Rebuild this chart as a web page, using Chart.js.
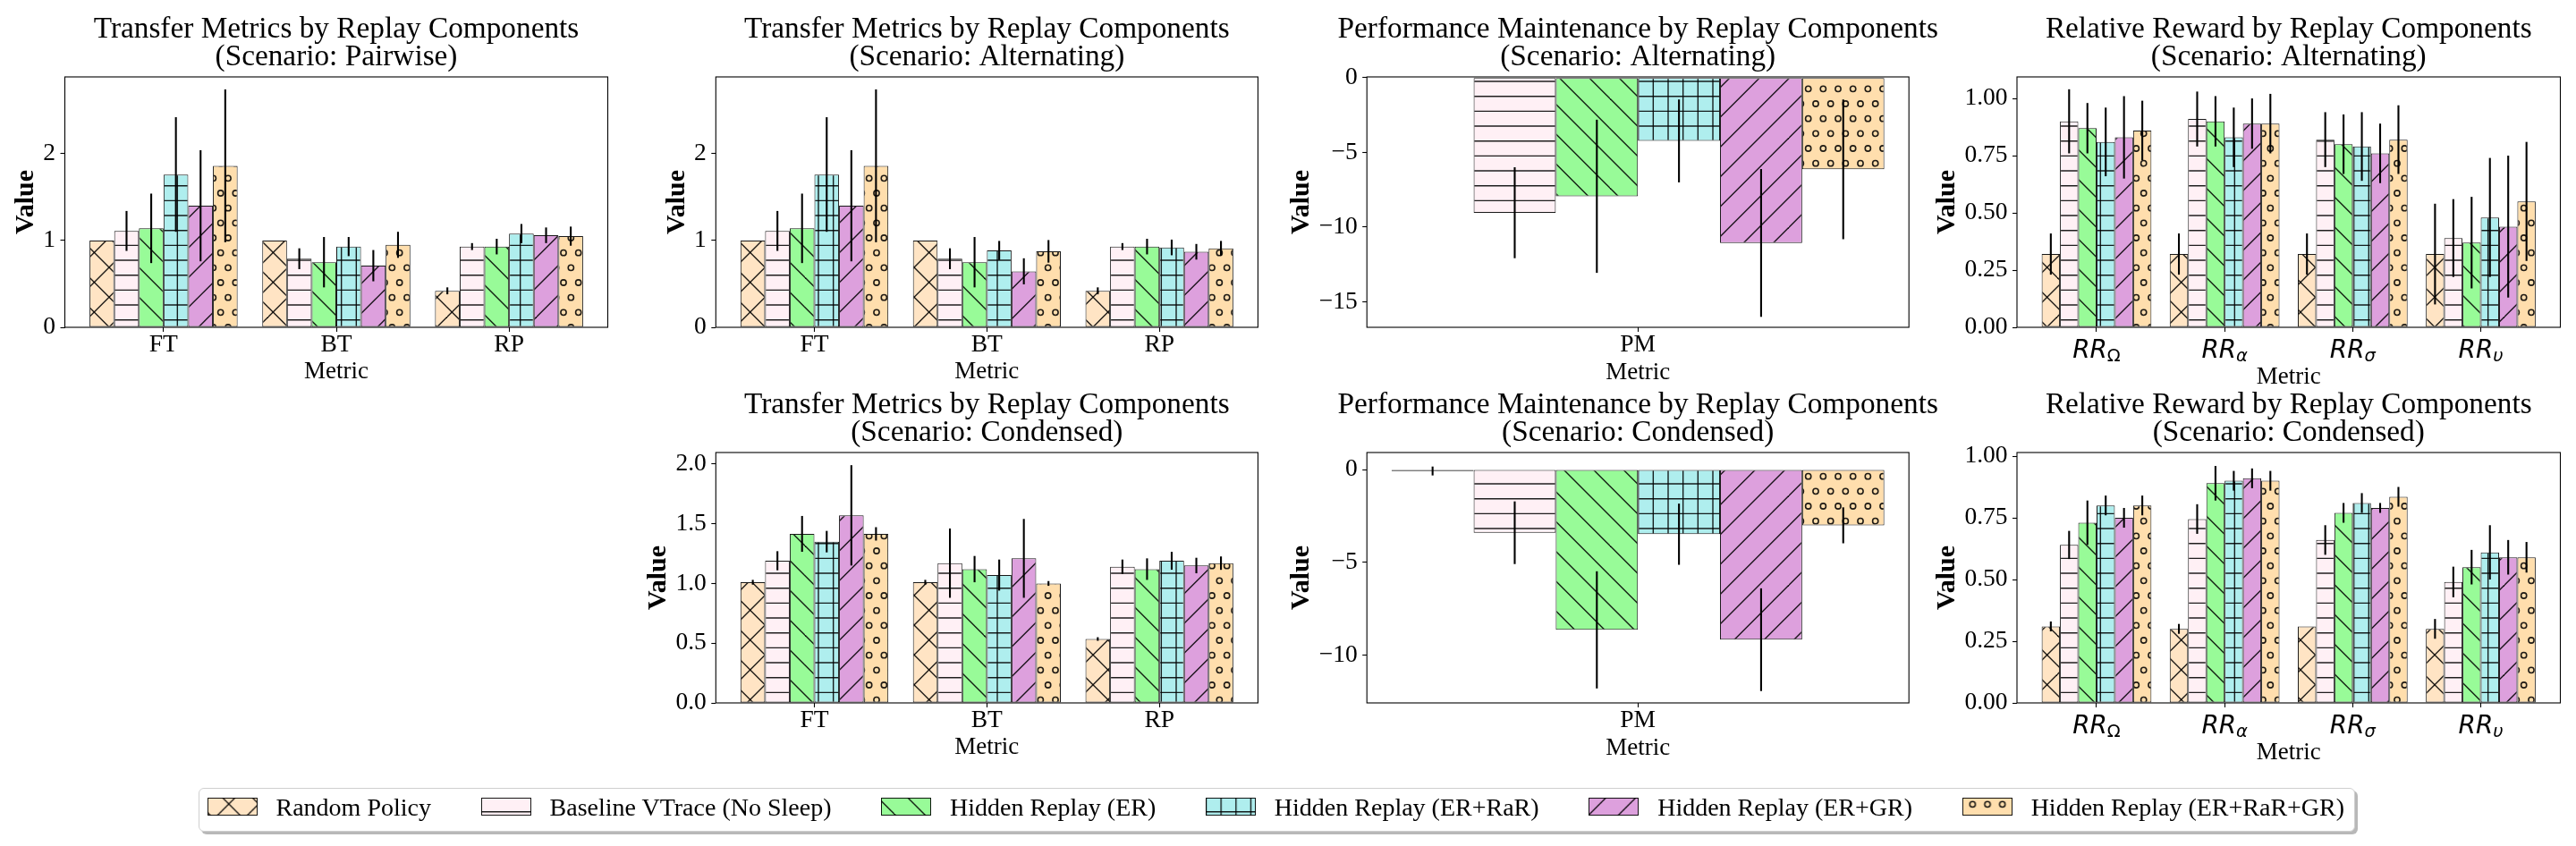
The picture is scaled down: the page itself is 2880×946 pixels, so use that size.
<!DOCTYPE html>
<html>
<head>
<meta charset="utf-8">
<script src="https://cdn.jsdelivr.net/npm/chart.js@4.4.1/dist/chart.umd.min.js"></script>
<style>
html,body{margin:0;padding:0;background:#fff;}
#fig{position:relative;width:2880px;height:946px;overflow:hidden;background:#fff;}
#fig canvas.panel{position:absolute;left:0;top:0;}
#legend{position:absolute;left:222px;top:881px;height:47px;display:flex;align-items:flex-start;
  padding:0 11px 0 8.5px;border:1px solid #cfcfcf;border-radius:6px;background:#fff;
  box-shadow:3px 3px 0 0 rgba(0,0,0,0.28);font-family:"Liberation Serif","Times New Roman",serif;
  font-size:28px;color:#000;white-space:nowrap;}
#legend .item{display:flex;align-items:flex-start;margin-right:55.6px;}
#legend .item:last-child{margin-right:0;}
#legend canvas.sw{margin-top:10px;margin-right:21px;width:56px;height:20px;display:block;}
#legend span{line-height:28px;margin-top:6.5px;display:block;}
</style>
</head>
<body>
<div id="fig">
  <canvas class="panel" id="c1" width="2880" height="946"></canvas>
  <canvas class="panel" id="c2" width="2880" height="946"></canvas>
  <canvas class="panel" id="c3" width="2880" height="946"></canvas>
  <canvas class="panel" id="c4" width="2880" height="946"></canvas>
  <canvas class="panel" id="c5" width="2880" height="946"></canvas>
  <canvas class="panel" id="c6" width="2880" height="946"></canvas>
  <canvas class="panel" id="c7" width="2880" height="946"></canvas>
  <div id="legend"></div>
</div>
<script>
// ---------------- DATA ----------------
const METHODS = ['Random Policy', 'Baseline VTrace (No Sleep)', 'Hidden Replay (ER)',
                 'Hidden Replay (ER+RaR)', 'Hidden Replay (ER+GR)', 'Hidden Replay (ER+RaR+GR)'];

const TRANSFER_METRICS = ['FT', 'BT', 'RP'];
const PM_METRICS = ['PM'];
const RR_BASE = 'RR';
const RR_SUBSCRIPTS = ['Ω', 'α', 'σ', 'υ'];

const TRANSFER_TICKS = [0, 1, 2];
const TRANSFER_COND_TICKS = [0, 0.5, 1, 1.5, 2];
const PM_ALT_TICKS = [0, -5, -10, -15];
const PM_COND_TICKS = [0, -5, -10];
const RR_TICKS = [0, 0.25, 0.5, 0.75, 1];

// rows = methods, columns = metrics
const pairwiseTransferMean = [
  [1.00, 1.00, 0.42], [1.11, 0.79, 0.93], [1.14, 0.75, 0.93],
  [1.76, 0.93, 1.08], [1.40, 0.71, 1.06], [1.86, 0.95, 1.05]];
const pairwiseTransferErr = [
  [0, 0, 0.04], [0.23, 0.12, 0.04], [0.40, 0.29, 0.09],
  [0.66, 0.11, 0.11], [0.64, 0.18, 0.09], [0.88, 0.15, 0.11]];

const alternatingTransferMean = [
  [1.00, 1.00, 0.42], [1.11, 0.79, 0.93], [1.14, 0.75, 0.93],
  [1.76, 0.885, 0.92], [1.40, 0.645, 0.87], [1.86, 0.875, 0.91]];
const alternatingTransferErr = [
  [0, 0, 0.04], [0.23, 0.12, 0.04], [0.40, 0.29, 0.09],
  [0.66, 0.11, 0.09], [0.64, 0.15, 0.09], [0.88, 0.13, 0.085]];

const condensedTransferMean = [
  [1.01, 1.01, 0.535], [1.19, 1.17, 1.14], [1.415, 1.12, 1.12],
  [1.35, 1.07, 1.19], [1.57, 1.21, 1.15], [1.415, 1.00, 1.17]];
const condensedTransferErr = [
  [0.02, 0.02, 0.015], [0.08, 0.29, 0.06], [0.15, 0.11, 0.09],
  [0.09, 0.13, 0.075], [0.42, 0.33, 0.065], [0.056, 0.02, 0.056]];

const alternatingPMMean = [[-0.03], [-9.04], [-7.94], [-4.24], [-11.06], [-6.14]];
const alternatingPMErr  = [[0], [3.04], [5.12], [2.77], [4.94], [4.67]];

const condensedPMMean = [[-0.08], [-3.41], [-8.65], [-3.49], [-9.18], [-3.01]];
const condensedPMErr  = [[0.24], [1.69], [3.16], [1.65], [2.77], [0.97]];

const alternatingRRMean = [
  [0.32, 0.32, 0.32, 0.32], [0.90, 0.91, 0.82, 0.39], [0.87, 0.90, 0.80, 0.37],
  [0.81, 0.83, 0.79, 0.48], [0.83, 0.89, 0.76, 0.44], [0.86, 0.89, 0.82, 0.55]];
const alternatingRRErr = [
  [0.09, 0.09, 0.09, 0.22], [0.14, 0.12, 0.12, 0.17], [0.11, 0.11, 0.13, 0.20],
  [0.15, 0.13, 0.15, 0.26], [0.18, 0.11, 0.13, 0.31], [0.13, 0.13, 0.15, 0.26]];

const condensedRRMean = [
  [0.31, 0.30, 0.31, 0.30], [0.64, 0.745, 0.66, 0.49], [0.73, 0.89, 0.77, 0.55],
  [0.80, 0.90, 0.81, 0.61], [0.75, 0.91, 0.79, 0.59], [0.80, 0.90, 0.835, 0.59]];
const condensedRRErr = [
  [0.02, 0.02, 0, 0.04], [0.057, 0.06, 0.06, 0.062], [0.09, 0.07, 0.04, 0.07],
  [0.04, 0.04, 0.04, 0.11], [0.04, 0.04, 0.02, 0.07], [0.04, 0.04, 0.04, 0.062]];

// ---------------- STYLE ----------------
const FILLS = ['#FFE4C4', '#FFF0F5', '#98FB98', '#AFEEEE', '#DDA0DD', '#FFDEAD'];
const HATCHES = ['x', '-', '\\', '+', '/', 'o'];
const EDGE = 'rgba(0,0,0,0.9)';
const HATCH_COLOR = 'rgba(0,0,0,0.88)';
const SERIF = '"Liberation Serif", "Times New Roman", serif';

const P6 = 100 / 6, P3 = 100 / 3;
function makeTile(kind, color) {
  const c = document.createElement('canvas');
  c.width = 100; c.height = 100;
  const t = c.getContext('2d');
  t.fillStyle = color; t.fillRect(0, 0, 100, 100);
  t.strokeStyle = HATCH_COLOR; t.lineWidth = 1.4;
  const line = (a, b, cc, d) => { t.beginPath(); t.moveTo(a, b); t.lineTo(cc, d); t.stroke(); };
  if (kind === 'x' || kind === '\\') {
    for (let k = -4; k <= 4; k++) { const q = 23 + k * P3; line(q - 20, -20, q + 120, 120); }
  }
  if (kind === 'x' || kind === '/') {
    for (let k = -1; k <= 7; k++) { const q = 21 + k * P3; line(q + 20, -20, q - 120, 120); }
  }
  if (kind === '-' || kind === '+') {
    for (let k = -1; k <= 6; k++) { const y = 7.7 + k * P6; line(-5, y, 105, y); }
  }
  if (kind === '+') {
    for (let k = -1; k <= 6; k++) { const x = 15 + k * P6; line(x, -5, x, 105); }
  }
  if (kind === 'o') {
    t.lineWidth = 1.6;
    for (let r = -1; r <= 6; r++) {
      const y = 16 + r * P6;
      const x0 = (((r % 2) + 2) % 2 === 1) ? 5 : 13.333;
      for (let cI = -1; cI <= 6; cI++) {
        t.beginPath(); t.arc(x0 + cI * P6, y, 3.1, 0, 2 * Math.PI); t.stroke();
      }
    }
  }
  return c;
}

function fmtTick(v, dec) {
  const s = Math.abs(v).toFixed(dec);
  return (v < 0 ? '\u2212' : '') + s;
}

function xRange(n) {
  const half = 3 / 7, span = (n - 1) + 2 * half, m = 0.05 * span;
  return [-half - m, n - 1 + half + m];
}

// ---------------- PLUGINS ----------------
const errorBars = {
  id: 'errorBars',
  afterDatasetsDraw(chart) {
    const ctx = chart.ctx, ys = chart.scales.y;
    ctx.save();
    ctx.strokeStyle = '#000'; ctx.lineWidth = 2.1; ctx.lineCap = 'butt';
    chart.data.datasets.forEach((ds, di) => {
      const meta = chart.getDatasetMeta(di);
      meta.data.forEach((el, j) => {
        const e = ds.errors[j];
        if (!e) return;
        const v = ds.data[j].y;
        ctx.beginPath();
        ctx.moveTo(el.x, ys.getPixelForValue(v + e));
        ctx.lineTo(el.x, ys.getPixelForValue(v - e));
        ctx.stroke();
      });
    });
    ctx.restore();
  }
};
const frame = {
  id: 'frame',
  afterDraw(chart) {
    const a = chart.chartArea, ctx = chart.ctx;
    ctx.save(); ctx.strokeStyle = '#000'; ctx.lineWidth = 1.1;
    ctx.strokeRect(a.left, a.top, a.right - a.left, a.bottom - a.top);
    ctx.restore();
  }
};
function panelText(lines, valueOffset) {
  return {
    id: 'panelText',
    afterDraw(chart) {
      const a = chart.chartArea, ctx = chart.ctx;
      ctx.save(); ctx.fillStyle = '#000'; ctx.textAlign = 'center'; ctx.textBaseline = 'alphabetic';
      ctx.font = '33.3px ' + SERIF;
      const cx = (a.left + a.right) / 2;
      ctx.fillText(lines[0], cx, a.top - 43.7);
      ctx.fillText(lines[1], cx, a.top - 13.3);
      ctx.translate(a.left - valueOffset, (a.top + a.bottom) / 2);
      ctx.rotate(-Math.PI / 2);
      ctx.font = 'bold 30px ' + SERIF;
      ctx.textBaseline = 'alphabetic';
      ctx.fillText('Value', 0, 10);
      ctx.restore();
    }
  };
}
function rrLabels(subs) {
  return {
    id: 'rrLabels',
    afterDraw(chart) {
      const ctx = chart.ctx, xs = chart.scales.x, base = chart.chartArea.bottom + 34;
      ctx.save(); ctx.fillStyle = '#000'; ctx.textBaseline = 'alphabetic'; ctx.textAlign = 'left';
      const mainFont = 'italic 27.8px "DejaVu Sans"';
      subs.forEach((s, i) => {
        const x = xs.getPixelForValue(i);
        const subFont = (s === 'Ω' ? '' : 'italic ') + '19.5px "DejaVu Sans"';
        ctx.font = mainFont; const w1 = ctx.measureText(RR_BASE).width;
        ctx.font = subFont; const w2 = ctx.measureText(s).width;
        const x0 = x - (w1 + w2) / 2;
        ctx.font = mainFont; ctx.fillText(RR_BASE, x0, base);
        ctx.font = subFont; ctx.fillText(s, x0 + w1, base + 3.5);
      });
      ctx.restore();
    }
  };
}

// ---------------- PANELS ----------------
function buildPanel(id, spec) {
  const { labels, means, errs, yLim, yTicks, yDec, title, box, rrSubs } = spec;
  const n = labels.length;
  const [xMin, xMax] = xRange(n);
  const catPct = n === 1 ? (6 / 7) / (xMax - xMin) : 6 / 7;
  const canvas = document.getElementById(id);
  const ctx = canvas.getContext('2d');
  const datasets = METHODS.map((m, k) => ({
    label: m,
    data: means[k].map((v, i) => ({ x: i, y: v })),
    errors: errs[k],
    backgroundColor: ctx.createPattern(makeTile(HATCHES[k], FILLS[k]), 'repeat'),
    borderColor: EDGE, borderWidth: 1, borderSkipped: false,
    barPercentage: 1, categoryPercentage: catPct
  }));
  const gridOpts = { display: true, drawOnChartArea: false, drawTicks: true, tickLength: 5,
                     tickColor: '#000', tickWidth: 1.1, offset: false, color: 'rgba(0,0,0,0)' };
  new Chart(ctx, {
    type: 'bar',
    data: { datasets },
    options: {
      responsive: false, animation: false, devicePixelRatio: 1,
      layout: { padding: { left: box.L - box.yW, top: box.T, right: 2880 - box.R, bottom: 946 - box.B - box.xH } },
      plugins: { legend: { display: false }, tooltip: { enabled: false }, title: { display: false } },
      scales: {
        x: {
          type: 'linear', min: xMin, max: xMax, offset: false,
          afterBuildTicks: s => { s.ticks = labels.map((_, i) => ({ value: i })); },
          afterFit: s => { s.height = box.xH; },
          grid: gridOpts, border: { display: false },
          ticks: { autoSkip: false, maxRotation: 0, minRotation: 0, padding: 1, color: '#000',
                   font: { family: SERIF, size: 27.5, lineHeight: 1.0 },
                   callback: (v, i) => rrSubs ? '' : labels[i] },
          title: { display: true, text: 'Metric', color: '#000',
                   font: { family: SERIF, size: 27, lineHeight: 1.2 }, padding: { top: 0, bottom: 0 } }
        },
        y: {
          type: 'linear', min: yLim[0], max: yLim[1],
          afterBuildTicks: s => { s.ticks = yTicks.map(v => ({ value: v })); },
          afterFit: s => { s.width = box.yW; },
          grid: gridOpts, border: { display: false },
          ticks: { padding: 5.5, color: '#000', font: { family: SERIF, size: 27.5, lineHeight: 1.0 },
                   callback: v => fmtTick(v, yDec) },
          title: { display: false }
        }
      }
    },
    plugins: [errorBars, frame, panelText(title, box.yW - 16.2)].concat(rrSubs ? [rrLabels(rrSubs)] : [])
  });
}

const ROW1 = { T: 86, B: 366 }, ROW2 = { T: 506, B: 786 };
const COLS = [{ L: 72.5, R: 679.5 }, { L: 800.3, R: 1406.4 }, { L: 1528.2, R: 2134.2 }, { L: 2255, R: 2862.5 }];

buildPanel('c1', { labels: TRANSFER_METRICS, means: pairwiseTransferMean, errs: pairwiseTransferErr,
  yLim: [0, 2.884], yTicks: TRANSFER_TICKS, yDec: 0,
  title: ['Transfer Metrics by Replay Components', '(Scenario: Pairwise)'],
  box: { ...COLS[0], ...ROW1, yW: 61.6, xH: 66.1 } });
buildPanel('c2', { labels: TRANSFER_METRICS, means: alternatingTransferMean, errs: alternatingTransferErr,
  yLim: [0, 2.884], yTicks: TRANSFER_TICKS, yDec: 0,
  title: ['Transfer Metrics by Replay Components', '(Scenario: Alternating)'],
  box: { ...COLS[1], ...ROW1, yW: 61.6, xH: 66.1 } });
buildPanel('c3', { labels: PM_METRICS, means: alternatingPMMean, errs: alternatingPMErr,
  yLim: [-16.7, 0.04], yTicks: PM_ALT_TICKS, yDec: 0,
  title: ['Performance Maintenance by Replay Components', '(Scenario: Alternating)'],
  box: { ...COLS[2], ...ROW1, yW: 91.8, xH: 67.1 } });
buildPanel('c4', { labels: RR_SUBSCRIPTS.map(s => RR_BASE + s), means: alternatingRRMean, errs: alternatingRRErr,
  yLim: [0, 1.094], yTicks: RR_TICKS, yDec: 2, rrSubs: RR_SUBSCRIPTS,
  title: ['Relative Reward by Replay Components', '(Scenario: Alternating)'],
  box: { ...COLS[3], ...ROW1, yW: 96.2, xH: 71.8 } });
buildPanel('c5', { labels: TRANSFER_METRICS, means: condensedTransferMean, errs: condensedTransferErr,
  yLim: [0, 2.096], yTicks: TRANSFER_COND_TICKS, yDec: 1,
  title: ['Transfer Metrics by Replay Components', '(Scenario: Condensed)'],
  box: { ...COLS[1], ...ROW2, yW: 82.7, xH: 66.1 } });
buildPanel('c6', { labels: PM_METRICS, means: condensedPMMean, errs: condensedPMErr,
  yLim: [-12.59, 0.917], yTicks: PM_COND_TICKS, yDec: 0,
  title: ['Performance Maintenance by Replay Components', '(Scenario: Condensed)'],
  box: { ...COLS[2], ...ROW2, yW: 91.8, xH: 67.1 } });
buildPanel('c7', { labels: RR_SUBSCRIPTS.map(s => RR_BASE + s), means: condensedRRMean, errs: condensedRRErr,
  yLim: [0, 1.0145], yTicks: RR_TICKS, yDec: 2, rrSubs: RR_SUBSCRIPTS,
  title: ['Relative Reward by Replay Components', '(Scenario: Condensed)'],
  box: { ...COLS[3], ...ROW2, yW: 96.2, xH: 71.8 } });

// ---------------- LEGEND ----------------
(function buildLegend() {
  const lg = document.getElementById('legend');
  METHODS.forEach((m) => {
    const item = document.createElement('div'); item.className = 'item';
    const sw = document.createElement('canvas'); sw.width = 56; sw.height = 20; sw.className = 'sw';
    const sp = document.createElement('span'); sp.textContent = m;
    item.append(sw, sp); lg.append(item);
  });
  const fr = document.getElementById('fig').getBoundingClientRect();
  lg.querySelectorAll('canvas.sw').forEach((sw, k) => {
    const r = sw.getBoundingClientRect();
    const c = sw.getContext('2d');
    const pat = c.createPattern(makeTile(HATCHES[k], FILLS[k]), 'repeat');
    if (pat.setTransform) pat.setTransform(new DOMMatrix().translate(-(r.left - fr.left), -(r.top - fr.top)));
    c.fillStyle = pat; c.fillRect(0, 0, 56, 20);
    c.strokeStyle = EDGE; c.lineWidth = 1; c.strokeRect(0.5, 0.5, 55, 19);
  });
})();
</script>
</body>
</html>
